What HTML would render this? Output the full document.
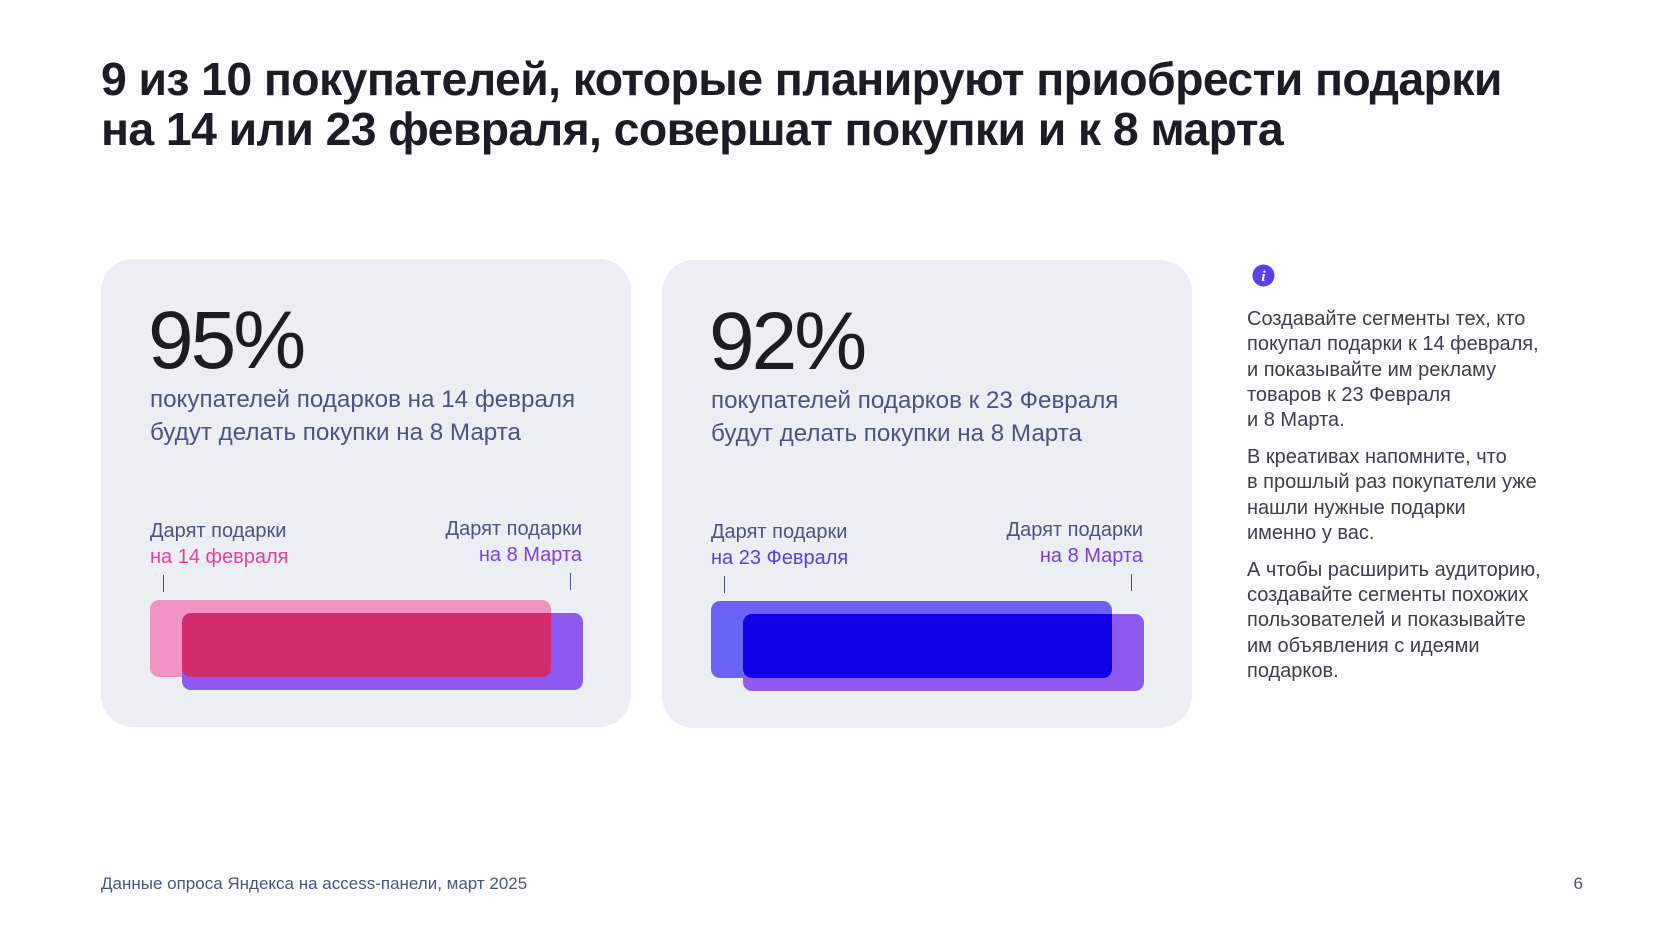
<!DOCTYPE html>
<html><head><meta charset="utf-8">
<style>
*{margin:0;padding:0;box-sizing:border-box}
body{width:1680px;height:929px;background:#fff;position:relative;overflow:hidden;font-family:"Liberation Sans","Noto Sans CJK SC",sans-serif}
.abs{position:absolute}
#title{left:101px;top:54px;font-size:46.4px;line-height:50px;font-weight:bold;color:#1b1d24;letter-spacing:-0.6px;white-space:nowrap}
.card{position:absolute;background:#ebeef3;border-radius:32px}
.pct{position:absolute;font-size:82px;line-height:82px;color:#1b1d24;letter-spacing:-3px}
.sub{position:absolute;font-size:24.2px;line-height:33px;color:#4a5580;white-space:nowrap}
.lbl{position:absolute;font-size:20px;line-height:26px;color:#4a5580;white-space:nowrap}
.tick{position:absolute;width:1px;height:17px;background:#4a5580}
.bar{position:absolute;border-radius:9px}
#side{left:1247px;top:307px;width:340px;font-size:20px;line-height:25.3px;color:#3a3f4d}
#side p{margin-bottom:11.5px}
#foot{left:101px;top:875px;font-size:17px;line-height:17px;color:#4a5580}
#pg{left:1563px;top:875px;width:20px;text-align:right;font-size:17px;line-height:17px;color:#4a5580}
</style></head><body>
<div id="title" class="abs">9 из 10 покупателей, которые планируют приобрести подарки<br>на 14 или 23 февраля, совершат покупки и к 8 марта</div>
<div id="cards"></div>
<svg class="abs" style="left:1252px;top:264px" width="24" height="24"><circle cx="11.5" cy="11.5" r="11" fill="#5b3ff0"/><text x="11.5" y="17" text-anchor="middle" font-family="Liberation Serif" font-style="italic" font-weight="bold" font-size="15" fill="#fff">i</text></svg>
<div id="side" class="abs">
<p>Создавайте сегменты тех, кто<br>покупал подарки к 14 февраля,<br>и показывайте им рекламу<br>товаров к 23 Февраля<br>и 8 Марта.</p>
<p>В креативах напомните, что<br>в прошлый раз покупатели уже<br>нашли нужные подарки<br>именно у вас.</p>
<p>А чтобы расширить аудиторию,<br>создавайте сегменты похожих<br>пользователей и показывайте<br>им объявления с идеями<br>подарков.</p>
</div>
<div id="foot" class="abs">Данные опроса Яндекса на access-панели, март 2025</div>
<div id="pg" class="abs">6</div>
<script>
const percents=[95,92];
const fromLabels=["на 14 февраля","на 23 Февраля"];
const subLines=["покупателей подарков на 14 февраля","покупателей подарков к 23 Февраля"];
const lightColors=["#f093c3","#6a62f4"];
const overlapColors=["#d12c6e","#1300e6"];
const fromColors=["#e8409a","#5a3cf0"];
const root=document.getElementById('cards');
const cardX=[101,662],cardY=[259,260];
function mk(cls,name,css,html){const d=document.createElement('div');d.className=cls;d.style.cssText=css;if(html)d.innerHTML=html;


root.appendChild(d);return d;}
percents.forEach((p,i)=>{
 const x=cardX[i],y=cardY[i];
 mk('card','stat-card-'+(i+1),`left:${x}px;top:${y}px;width:530px;height:468px`);
 const L=x+49;
 mk('pct','percent-value-'+(i+1),`left:${L-2}px;top:${y+41}px`,p+'%');
 mk('sub','stat-description-'+(i+1),`left:${L}px;top:${y+124}px`,subLines[i]+'<br>будут делать покупки на 8 Марта');
 mk('lbl','from-label-'+(i+1),`left:${L}px;top:${y+259}px`,`Дарят подарки<br><span style="color:${fromColors[i]}">${fromLabels[i]}</span>`);
 mk('lbl','to-label-'+(i+1),`left:${L+182}px;top:${y+257}px;width:250px;text-align:right`,`Дарят подарки<br><span style="color:#7a3cf0">на 8 Марта</span>`);
 mk('tick','from-tick-'+(i+1),`left:${L+13}px;top:${y+316}px`);
 mk('tick','to-tick-'+(i+1),`left:${L+420}px;top:${y+314}px`);
 const w=401, off=32, w2=w;
 const ax=L, ay=y+341, bx=L+off, by=y+354;
 mk('bar','bar-from-'+(i+1),`left:${ax}px;top:${ay}px;width:${w}px;height:77px;background:${lightColors[i]}`);
 mk('bar','bar-to-'+(i+1),`left:${bx}px;top:${by}px;width:${w2}px;height:77px;background:#8d59f1`);
 const ow=Math.min(ax+w,bx+w2)-bx;
 mk('bar','bar-overlap-'+(i+1),`left:${bx}px;top:${by}px;width:${ow}px;height:${ay+77-by}px;background:${overlapColors[i]};border-radius:9px 0 9px 9px`);
});
</script>
</body></html>
